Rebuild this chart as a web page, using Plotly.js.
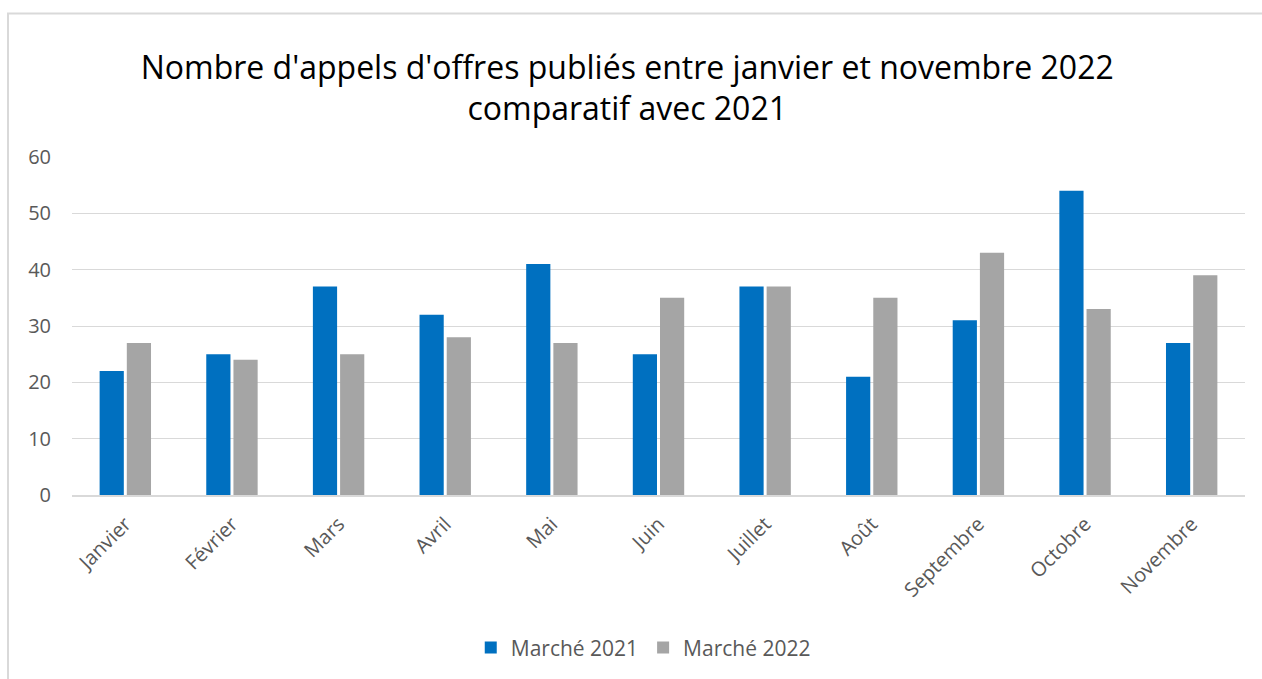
<!DOCTYPE html>
<html><head><meta charset="utf-8">
<script src="https://cdn.plot.ly/plotly-3.0.1.min.js"></script>
<style>html,body{margin:0;padding:0;background:#fff}#c{width:1262px;height:679px}</style>
</head><body><div id="c"></div>
<script>
const months = ["Janvier","Février","Mars","Avril","Mai","Juin","Juillet","Août","Septembre","Octobre","Novembre"];
const marche2021 = [22,25,37,32,41,25,37,21,31,54,27];
const marche2022 = [27,24,25,28,27,35,37,35,43,33,39];
const tickVals = [0,10,20,30,40,50,60];

const font = "Open Sans, Liberation Sans, sans-serif";
const data = [
  {type:"bar", name:"Marché 2021", x:months, y:marche2021, marker:{color:"#0070C0"}},
  {type:"bar", name:"Marché 2022", x:months, y:marche2022, marker:{color:"#A5A5A5"}}
];
const layout = {
  width:1262, height:679,
  paper_bgcolor:"#fff", plot_bgcolor:"#fff",
  margin:{l:72, r:17, t:157, b:183},
  barmode:"group", bargap:0.49, bargroupgap:0.11,
  font:{family:font, color:"#595959", size:20},
  title:{text:"Nombre d'appels d'offres publiés entre janvier et novembre 2022<br>comparatif avec 2021",
         x:0.497, xanchor:"center", y:0.884, yanchor:"middle",
         font:{family:font, size:32, color:"#000"}},
  xaxis:{tickangle:-45, showline:true, linecolor:"#d9d9d9", linewidth:1.5, ticks:"", ticklabelstandoff:8, tickfont:{size:20, color:"#595959"}},
  yaxis:{range:[0,60], tickvals:tickVals, showgrid:true, gridcolor:"#d9d9d9", zeroline:false, showline:false, ticks:"", ticklabelstandoff:20, tickfont:{size:20, color:"#595959"}},
  showlegend:true,
  legend:{orientation:"h", x:0.487, xanchor:"center", y:-0.448, yanchor:"middle", font:{size:21, color:"#595959"}, traceorder:"normal", itemwidth:30},
  shapes:[{type:"rect", xref:"paper", yref:"paper", x0:-64/1173, x1:1.02, y0:-0.6, y1:(679-13-183)/339, line:{color:"#d9d9d9", width:2}, fillcolor:"rgba(0,0,0,0)", layer:"below"}]
};
Plotly.newPlot("c", data, layout, {displayModeBar:false, staticPlot:true});
</script></body></html>
